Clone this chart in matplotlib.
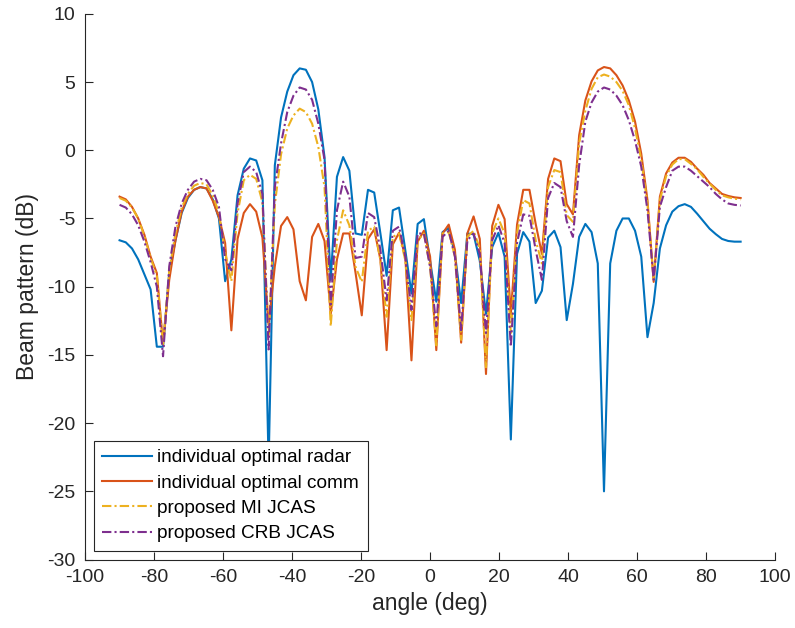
import numpy as np
import matplotlib
matplotlib.use("Agg")
import matplotlib.pyplot as plt

plt.rcParams['font.family'] = ['Liberation Sans', 'DejaVu Sans']
plt.rcParams['axes.unicode_minus'] = False

# angle grid -90:1.8:90
angle = np.linspace(-90, 90, 101)

radar = [-6.6, -6.75, -7.2, -8.0, -9.1, -10.2, -14.4, -14.4, -9.0, -6.6,
         -4.6, -3.5, -2.9, -2.7, -2.8, -3.6, -5.0, -9.6, -8.0, -3.3,
         -1.35, -0.6, -0.75, -2.2, -23.0, -1.1, 2.4, 4.3, 5.5, 6.0,
         5.9, 5.0, 3.0, -0.5, -9.5, -1.95, -0.5, -1.5, -6.1, -6.2,
         -2.9, -3.1, -6.1, -9.2, -4.4, -4.2, -7.3, -10.5, -5.4, -5.05,
         -8.1, -11.1, -6.0, -5.7, -7.6, -11.2, -6.1, -6.15, -8.1, -12.0,
         -7.1, -6.05, -7.8, -21.2, -7.6, -6.0, -6.7, -11.2, -10.3, -6.4,
         -5.9, -7.1, -12.45, -9.8, -6.35, -5.4, -6.0, -8.3, -25.0, -8.3,
         -5.9, -5.0, -5.0, -5.9, -7.8, -13.7, -11.2, -7.2, -5.5, -4.5,
         -4.1, -3.95, -4.15, -4.65, -5.2, -5.75, -6.15, -6.5, -6.65, -6.7,
         -6.7]

comm = [-3.4, -3.6, -4.15, -5.0, -6.2, -7.8, -9.0, -14.2, -9.5, -6.6,
        -4.5, -3.4, -2.9, -2.7, -2.8, -3.7, -4.9, -6.8, -13.2, -6.5,
        -4.6, -3.95, -4.5, -6.4, -12.8, -8.5, -5.55, -4.9, -5.8, -9.6,
        -11.0, -6.35, -5.4, -6.65, -12.0, -8.0, -6.1, -6.1, -9.0, -12.1,
        -6.5, -5.8, -8.0, -14.65, -6.9, -6.05, -7.8, -15.4, -6.7, -5.9,
        -7.8, -14.65, -6.1, -5.45, -7.3, -14.1, -6.1, -4.85, -6.5, -16.4,
        -5.55, -4.0, -5.05, -12.0, -5.45, -2.9, -2.9, -5.4, -7.6, -2.1,
        -0.6, -0.8, -3.95, -4.7, 1.1, 3.65, 5.05, 5.85, 6.1, 6.0,
        5.5, 4.75, 3.65, 2.1, -0.25, -3.65, -9.65, -3.4, -1.7, -0.9,
        -0.55, -0.55, -0.85, -1.35, -1.8, -2.4, -2.8, -3.2, -3.35, -3.45,
        -3.5]

mi_jcas = [-3.5, -3.7, -4.2, -5.0, -6.3, -7.9, -9.2, -14.3, -8.8, -6.1,
           -4.2, -3.2, -2.6, -2.4, -2.5, -3.3, -4.6, -7.5, -9.6, -4.6,
           -2.2, -1.8, -2.1, -3.8, -13.5, -4.0, -0.3, 1.6, 2.55, 3.05,
           2.8, 1.95, 0.25, -2.7, -12.9, -6.6, -4.4, -5.5, -8.55, -9.65,
           -5.9, -5.6, -8.05, -12.2, -6.35, -6.1, -8.05, -12.45, -6.6, -6.1,
           -8.55, -14.3, -6.1, -6.0, -7.8, -13.9, -6.35, -5.9, -7.2, -15.9,
           -6.1, -5.0, -6.1, -13.4, -6.1, -3.65, -3.9, -6.6, -8.3, -2.7,
           -1.45, -1.6, -4.75, -5.25, 0.5, 2.9, 4.5, 5.35, 5.55, 5.4,
           5.0, 4.35, 3.3, 1.6, -0.7, -3.9, -9.5, -3.65, -1.9, -1.05,
           -0.65, -0.65, -1.0, -1.4, -1.95, -2.45, -2.9, -3.3, -3.45, -3.55,
           -3.6]

crb_jcas = [-4.0, -4.2, -4.7, -5.5, -6.7, -8.2, -10.0, -15.1, -8.5, -5.6,
            -3.9, -2.9, -2.3, -2.1, -2.2, -2.9, -4.15, -8.0, -8.8, -3.9,
            -1.6, -1.2, -1.6, -3.2, -14.6, -2.7, 0.5, 2.8, 4.0, 4.6,
            4.45, 3.7, 1.95, -0.7, -11.3, -4.4, -2.3, -3.4, -7.9, -7.8,
            -4.6, -4.9, -7.3, -11.0, -5.9, -5.6, -7.8, -11.7, -6.1, -6.1,
            -8.55, -12.9, -6.35, -5.9, -7.8, -13.2, -6.6, -6.1, -7.6, -13.4,
            -6.6, -5.5, -6.8, -14.4, -6.8, -4.7, -4.8, -7.3, -9.5, -3.5,
            -2.4, -2.7, -5.2, -6.35, -1.1, 2.1, 3.5, 4.3, 4.6, 4.45,
            4.0, 3.3, 2.2, 0.7, -1.2, -4.4, -9.5, -4.15, -2.7, -1.5,
            -1.2, -1.2, -1.5, -1.9, -2.3, -2.7, -3.2, -3.6, -3.9, -4.0,
            -4.05]

labels = ['individual optimal radar', 'individual optimal comm',
          'proposed MI JCAS', 'proposed CRB JCAS']

fig = plt.figure(figsize=(7.95, 6.28), dpi=100)
ax = fig.add_axes([0.107, 0.109, 0.868, 0.869])

ax.plot(angle, radar, color='#0072BD', lw=1.5, label=labels[0])
ax.plot(angle, comm, color='#D95319', lw=1.5, label=labels[1])
ax.plot(angle, mi_jcas, color='#EDB120', lw=1.5, dashes=(4.5, 1.5, 1, 1.5), label=labels[2])
ax.plot(angle, crb_jcas, color='#7E2F8E', lw=1.5, dashes=(4.5, 1.5, 1, 1.5), label=labels[3])

ax.set_xlim(-100, 100)
ax.set_ylim(-30, 10)
ax.set_xticks(np.arange(-100, 101, 20))
ax.set_yticks(np.arange(-30, 11, 5))
ax.spines['top'].set_visible(False)
ax.spines['right'].set_visible(False)
for s in ['left', 'bottom']:
    ax.spines[s].set_color('#262626')
    ax.spines[s].set_linewidth(0.8)
ax.tick_params(direction='in', length=6, width=0.8, labelsize=14,
               colors='#262626', pad=7)

ax.set_xlabel('angle (deg)', fontsize=16.5, color='#262626', labelpad=4)
ax.set_ylabel('Beam pattern (dB)', fontsize=16.5, color='#262626', labelpad=6)

leg = ax.legend(loc='lower left', fontsize=13.7, frameon=True, fancybox=False,
                framealpha=1, edgecolor='#262626', handlelength=2.6,
                labelspacing=0.42, borderaxespad=0.45, borderpad=0.45,
                handletextpad=0.3)
leg.get_frame().set_linewidth(0.8)

fig.savefig('out.png', dpi=100)
